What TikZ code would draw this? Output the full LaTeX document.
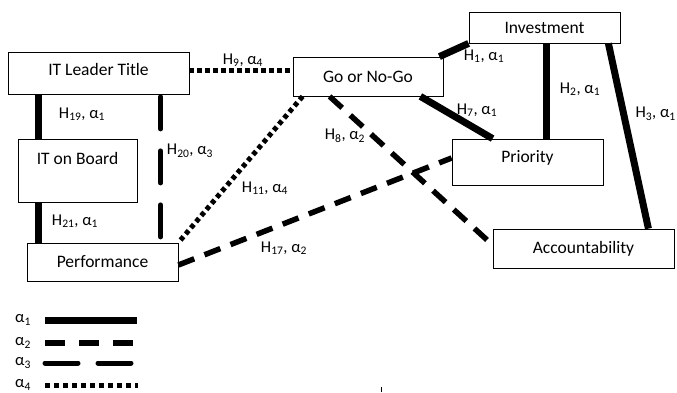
\documentclass[tikz,border=0pt]{standalone}
\usepackage{fontspec}
\setmainfont{Carlito}
\usetikzlibrary{calc}
\newcommand{\hlab}[2]{H\textsubscript{#1}, α\textsubscript{#2}}
\begin{document}
\begin{tikzpicture}[x=1pt,y=-1pt,
 box/.style={draw, line width=0.8pt, inner sep=0pt, font=\fontsize{17.5}{20}\selectfont},
 txt/.style={inner sep=0pt, font=\fontsize{17.5}{20}\selectfont},
 lab/.style={font=\fontsize{16.5}{18}\selectfont, inner sep=0pt},
 aone/.style={line width=7pt},
 atwo/.style={line width=5.5pt, dash pattern=on 17pt off 11pt},
 athree/.style={line width=5pt, line cap=round, dash pattern=on 32pt off 22pt},
 afour/.style={line width=5pt, dash pattern=on 4.5pt off 3.5pt}]
\useasboundingbox (0,0) rectangle (677,392);

% boxes
\node[box, minimum width=181, minimum height=42, text height=11.5pt, text depth=6pt] (lead) at (98.5,73) {IT Leader Title};
\node[box, minimum width=119, minimum height=63] (board) at (77.5,170.5) {};
\node[txt] (boardt) at (77.5,158) {IT on Board};
\node[box, minimum width=151, minimum height=38] (perf) at (102.5,262) {Performance};
\node[box, minimum width=150, minimum height=39] (go) at (368,76.5) {Go or No-Go};
\node[box, minimum width=151, minimum height=31] (inv) at (544.5,27.5) {Investment};
\node[box, minimum width=151, minimum height=46, text height=12pt, text depth=12pt] (prio) at (527.5,162) {Priority};
\node[box, minimum width=181, minimum height=39] (acc) at (583.5,248.5) {Accountability};

% connectors
\coordinate (d9) at ([yshift=2.5pt]lead.east);
\draw[afour] (d9) -- (d9 -| go.west);
\draw[aone] ([xshift=-4pt]go.north east) -- (inv.south west);
\draw[aone] ([xshift=78pt]inv.south west) -- ([xshift=95pt]prio.north west);
\draw[aone] ([xshift=-12pt]inv.south east) -- ([xshift=-26pt]acc.north east);
\draw[aone] ([xshift=-23pt]go.south east) -- ([xshift=41pt]prio.north west);
\draw[atwo] ([xshift=37pt]go.south west) -- ([yshift=3.5pt]acc.west);
\draw[afour] ([xshift=10pt]go.south west) -- (perf.north east);
\draw[atwo] ([yshift=-3pt]perf.east) -- ([yshift=4pt]prio.west);
\draw[aone] ([xshift=31pt]lead.south west) -- ([xshift=21pt]board.north west);
\draw[aone] ([xshift=21pt]board.south west) -- ([xshift=12pt]perf.north west);
\draw[athree] ([xshift=153pt,yshift=-2.5pt]lead.south west) -- ([xshift=134pt,yshift=2.5pt]perf.north west);

% labels
\node[lab] (l9) at (243,60) {\hlab{9}{4}};
\node[lab] (l1) at (484,56) {\hlab{1}{1}};
\node[lab] (l2) at (580,89) {\hlab{2}{1}};
\node[lab, anchor=east] (l3) at (676,114) {\hlab{3}{1}};
\node[lab] (l7) at (477,110) {\hlab{7}{1}};
\node[lab] (l8) at (345,136) {\hlab{8}{2}};
\node[lab] (l11) at (265,188) {\hlab{11}{4}};
\node[lab] (l17) at (284,248) {\hlab{17}{2}};
\node[lab] (l19) at (82,114) {\hlab{19}{1}};
\node[lab] (l20) at (190,151) {\hlab{20}{3}};
\node[lab] (l21) at (75,221) {\hlab{21}{1}};

% legend
\node[lab] (g1) at (23,320) {α\textsubscript{1}};
\node[lab] (g2) at (23,343) {α\textsubscript{2}};
\node[lab] (g3) at (23,363) {α\textsubscript{3}};
\node[lab] (g4) at (23,385) {α\textsubscript{4}};
\coordinate (s1) at (45,320); \coordinate (e1) at (137,320);
\coordinate (s2) at (45,343); \coordinate (e2) at (133,343);
\coordinate (s3) at (45,363); \coordinate (e3) at (134,363);
\coordinate (s4) at (45,385); \coordinate (e4) at (138,385);
\draw[aone] (s1) -- (e1);
\draw[line width=5.5pt, dash pattern=on 20pt off 14pt] (s2) -- (e2);
\draw[line width=5pt, line cap=round, dash pattern=on 33pt off 20pt] (s3) -- (e3);
\draw[line width=5pt, dash pattern=on 5pt off 4pt] (s4) -- (e4);

% small tick at bottom
\coordinate (t1) at (381,387); \coordinate (t2) at (381,392);
\draw[line width=0.7pt] (t1) -- (t2);
\end{tikzpicture}
\end{document}
